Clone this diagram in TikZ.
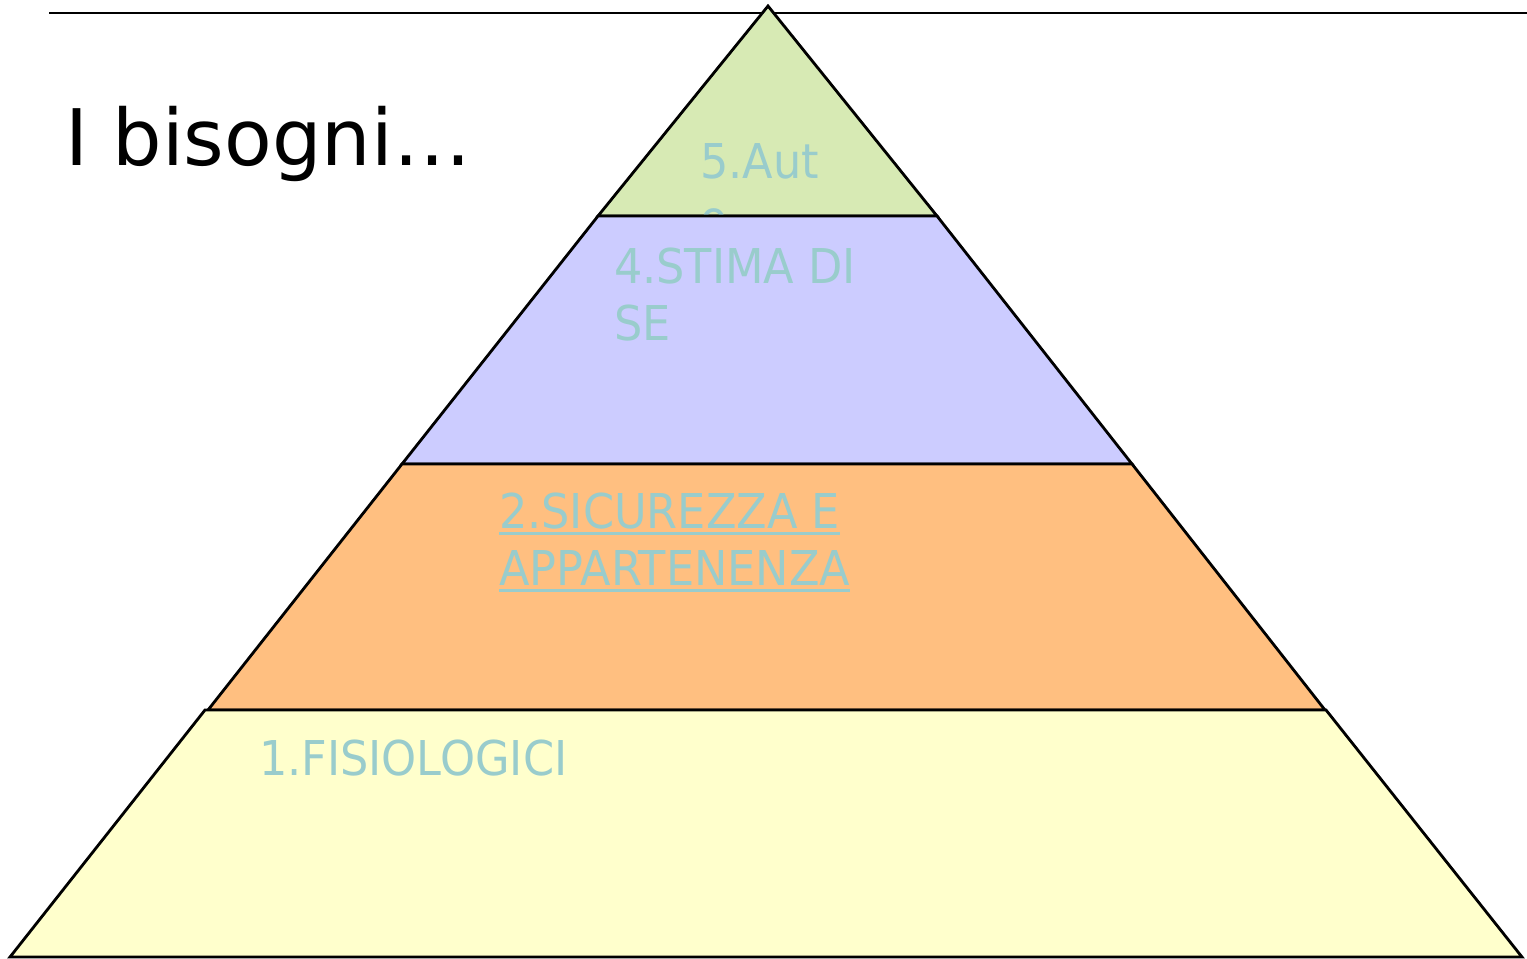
\documentclass[tikz,border=0pt]{standalone}
\usepackage{fontspec}
\setmainfont{DejaVu Sans}
\newfontfamily\labfont[FakeStretch=0.93]{DejaVu Sans}
\definecolor{labcol}{RGB}{153,204,204}
\definecolor{lvfive}{RGB}{215,234,180}
\definecolor{lvfour}{RGB}{204,204,255}
\definecolor{lvtwo}{RGB}{255,191,128}
\definecolor{lvone}{RGB}{255,255,204}
\newcommand\myul[1]{\setbox0\hbox{#1}\rlap{\raisebox{-3.7pt}{\rule{\wd0}{1.7pt}}}\box0}
\tikzset{
  layer/.style={draw=black, line width=1.6pt, line join=miter},
  lab/.style={anchor=base west, inner sep=0pt, outer sep=0pt, text=labcol,
    font=\labfont\fontsize{27.3}{32}\selectfont},
  ttl/.style={anchor=base west, inner sep=0pt, outer sep=0pt,
    font=\fontsize{44.4}{53}\selectfont}
}
\begin{document}
\begin{tikzpicture}[x=0.02cm, y=-0.02cm]
\useasboundingbox (0,0) rectangle (1527,958);
\coordinate (ls) at (49,13);
\coordinate (le) at (1527,13);
\draw[line width=1.4pt] (ls) -- (le);
\node[ttl] (title) at (65,165) {I bisogni…};
% level 5
\draw[layer, fill=lvfive] (768,6) -- (937,216) -- (598,216) -- cycle;
\node[lab] (l5a) at (700,178) {5.Aut};
\node[lab] (l5b) at (700,235) {o};
% level 4
\draw[layer, fill=lvfour] (598,216) -- (937,216) -- (1132,464) -- (402,464) -- cycle;
\node[lab] (l4a) at (614,283) {4.STIMA DI};
\node[lab] (l4b) at (614,340) {SE};
% level 2
\draw[layer, fill=lvtwo] (402,464) -- (1132,464) -- (1325,710) -- (208,710) -- cycle;
\node[lab] (l2a) at (499,528) {\myul{2.SICUREZZA E}};
\node[lab] (l2b) at (499,585) {\myul{APPARTENENZA}};
% level 1
\draw[layer, fill=lvone] (205,710) -- (1326,710) -- (1522,957) -- (10,957) -- cycle;
\node[lab] (l1a) at (259,775) {1.FISIOLOGICI};
\end{tikzpicture}
\end{document}
